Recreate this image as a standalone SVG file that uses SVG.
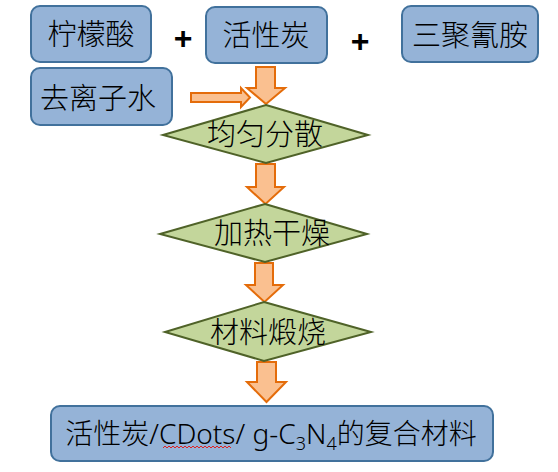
<svg xmlns="http://www.w3.org/2000/svg" width="558" height="472" viewBox="0 0 558 472">
<style>
.box{fill:#95B3D7;stroke:#41719C;stroke-width:2}
.dia{fill:#C3D69B;stroke:#4F6228;stroke-width:2}
.arr{fill:#FAC090;stroke:#E46C0A;stroke-width:2;stroke-linejoin:miter}
.t{font-family:"Noto Sans","Noto Sans CJK SC",sans-serif;font-size:29px;font-weight:300;fill:#000;text-anchor:middle}
.f{font-size:28px}
.plus{font-family:"Liberation Sans",Arial,sans-serif;font-size:32px;font-weight:bold;fill:#000;text-anchor:middle}
</style>
<rect width="558" height="472" fill="#fff"/>
<g id="connectors">
<polygon class="arr" points="256,67 275,67 275,88 285,88 266,104 247,88 256,88"/>
<polygon class="arr" points="191,93 241,93 241,88 250,97.5 241,107 241,102 191,102"/>
<polygon class="arr" points="256,164 275,164 275,187 284,187 265.5,204 247,187 256,187"/>
<polygon class="arr" points="255,263 273,263 273,285 283,285 264.5,302 246,285 255,285"/>
<polygon class="arr" points="257,362 276,362 276,382 286,382 266.5,402 247,382 257,382"/>
</g>
<g id="plus1"><text class="plus" x="183" y="48.5">+</text></g>
<g id="plus2"><text class="plus" x="360" y="51.5">+</text></g>
<g id="citric"><rect class="box" x="31" y="6" width="120" height="56" rx="9"/><text class="t" x="91" y="45">柠檬酸</text></g>
<g id="carbon"><rect class="box" x="206" y="7" width="121" height="56" rx="9"/><text class="t" x="266" y="46">活性炭</text></g>
<g id="melamine"><rect class="box" x="402" y="6" width="136" height="56" rx="9"/><text class="t" x="470" y="46">三聚氰胺</text></g>
<g id="water"><rect class="box" x="31" y="68" width="141" height="57" rx="9"/><text class="t" x="98" y="109">去离子水</text></g>
<g id="disperse"><polygon class="dia" points="266,105 368,135 266,163 163,135"/><text class="t" x="265" y="145">均匀分散</text></g>
<g id="dry"><polygon class="dia" points="265,204 367,234 265,262 160,234"/><text class="t" x="272" y="244">加热干燥</text></g>
<g id="calcine"><polygon class="dia" points="264,302 371,332 264,361 165,332"/><text class="t" x="268" y="343">材料煅烧</text></g>
<g id="product"><rect class="box" x="51" y="406" width="442" height="55" rx="9"/>
<text class="t f" x="271" y="444">活性炭/CDots/ g-C<tspan font-size="18" dy="6">3</tspan><tspan dy="-6">N</tspan><tspan font-size="18" dy="6">4</tspan><tspan dy="-6">的复合材料</tspan></text>
<path d="M163,448 l2,-2 l2,2 l2,-2 l2,2 l2,-2 l2,2 l2,-2 l2,2 l2,-2 l2,2 l2,-2 l2,2 l2,-2 l2,2 l2,-2 l2,2 l2,-2 l2,2 l2,-2 l2,2 l2,-2 l2,2 l2,-2 l2,2 l2,-2 l2,2 l2,-2 l2,2 l2,-2 l2,2 l2,-2 l2,2 l2,-2 l2,2" fill="none" stroke="#E02020" stroke-width="1"/>
</g>
</svg>
